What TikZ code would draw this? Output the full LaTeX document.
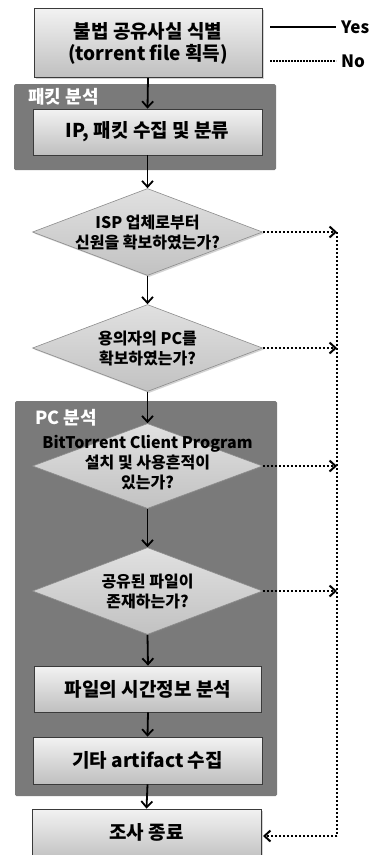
\documentclass[tikz,border=0pt]{standalone}
\usepackage{fontspec}
\setmainfont{Noto Sans CJK KR}
\usetikzlibrary{arrows.meta,shapes.geometric,shadows}
\definecolor{grp}{HTML}{7A7A7A}
\definecolor{edge}{HTML}{3A3A3A}
\begin{document}
\begin{tikzpicture}[x=1pt,y=-1pt,
  font=\bfseries\fontsize{17}{20}\selectfont,
  bfont/.style={font=\bfseries\fontsize{19}{22}\selectfont},
  box/.style={draw=edge,line width=0.8pt,top color=white!95!black,bottom color=black!25,
     minimum width=229pt,minimum height=46pt,inner sep=0pt,align=center,bfont,
     drop shadow={shadow xshift=1.5pt,shadow yshift=-1.5pt,opacity=0.35}},
  dia/.style={diamond,draw=black!45,line width=0.6pt,top color=black!12,bottom color=black!24,
     minimum width=230pt,minimum height=87pt,inner sep=0pt,
     drop shadow={shadow xshift=1.5pt,shadow yshift=-1.5pt,opacity=0.35}},
  dtext/.style={align=center,inner sep=0pt,font=\bfseries\fontsize{16}{20}\selectfont},
  grpbox/.style={fill=grp,rounded corners=1.5pt},
  grplabel/.style={text=white,anchor=west,inner sep=0pt,font=\bfseries\fontsize{18}{20}\selectfont},
  arr/.style={line width=1.8pt,-{Straight Barb[length=6pt,width=11pt]}},
  darr/.style={line width=2pt,dash pattern=on 2pt off 2pt,black},
  tip/.style={-{Straight Barb[length=6pt,width=11pt,line width'=2pt]}}]
\useasboundingbox (0,0) rectangle (381,855);
\clip (0,0) rectangle (381,855);
% groups
\path[grpbox] (14,84) rectangle (276,170);
\node[grplabel] (g1) at (28,97) {패킷 분석};
\path[grpbox] (15,401) rectangle (277,796);
\node[grplabel] (g2) at (35,418) {PC 분석};
% nodes
\node[box,minimum width=228pt,minimum height=69pt] (top) at (148,43) {불법 공유사실 식별\\(torrent file 획득)};
\node[box] (ip) at (147.5,132) {IP, 패킷 수집 및 분류};
\node[dia] (d1) at (147.5,232) {};
\node[dtext] (t1) at (d1) {ISP 업체로부터\\신원을 확보하였는가?};
\node[dia] (d2) at (147.5,348) {};
\node[dtext] (t2) at (d2) {용의자의 PC를\\확보하였는가?};
\node[dia,minimum height=85pt] (d3) at (147.5,466) {};
\node[dtext] (t3) at ([yshift=3pt]d3) {BitTorrent Client Program\\설치 및 사용흔적이\\있는가?};
\node[dia] (d4) at (147.5,591) {};
\node[dtext] (t4) at (d4) {공유된 파일이\\존재하는가?};
\node[box,minimum width=227pt] (ft) at (148,689) {파일의 시간정보 분석};
\node[box,minimum height=47pt] (art) at (147.5,760.5) {기타 artifact 수집};
\node[box,minimum height=52pt] (end) at (146.5,835) {};
\node[bfont,inner sep=0pt] (endt) at (146.5,832) {조사 종료};
% solid arrows
\draw[arr] (top.south) -- (ip.north);
\draw[arr] (ip.south) -- (d1.north);
\draw[arr] (d1.south) -- (d2.north);
\draw[arr] (d2.south) -- (d3.north);
\draw[arr] (d3.south) -- (d4.north);
\draw[arr] (d4.south) -- (ft.north);
\draw[arr] (ft.south) -- (art.north);
\draw[arr] (art.south) -- (end.north);
% dotted (No) paths
\coordinate (r1) at (337,232);
\coordinate (r2) at (337,348);
\coordinate (r3) at (337,466);
\coordinate (r4) at (337,591);
\coordinate (rb) at (337,836);
\coordinate (eb) at (263,836);
\draw[darr] (r1) -- (rb);
\draw[darr,tip] (d1.east) -- (r1);
\draw[darr,tip] (d2.east) -- (r2);
\draw[darr,tip] (d3.east) -- (r3);
\draw[darr,tip] (d4.east) -- (r4);
\draw[darr,tip] (rb) -- (eb);
% legend
\coordinate (ly1) at (270,27);
\coordinate (ly2) at (336,27);
\coordinate (ln1) at (270,61);
\coordinate (ln2) at (336,61);
\draw[line width=1.6pt] (ly1) -- (ly2);
\draw[line width=1.6pt,dash pattern=on 1.6pt off 1.4pt] (ln1) -- (ln2);
\node[anchor=west,inner sep=0pt] (yes) at (341,27) {Yes};
\node[anchor=west,inner sep=0pt] (no) at (341,61) {No};
\end{tikzpicture}
\end{document}
